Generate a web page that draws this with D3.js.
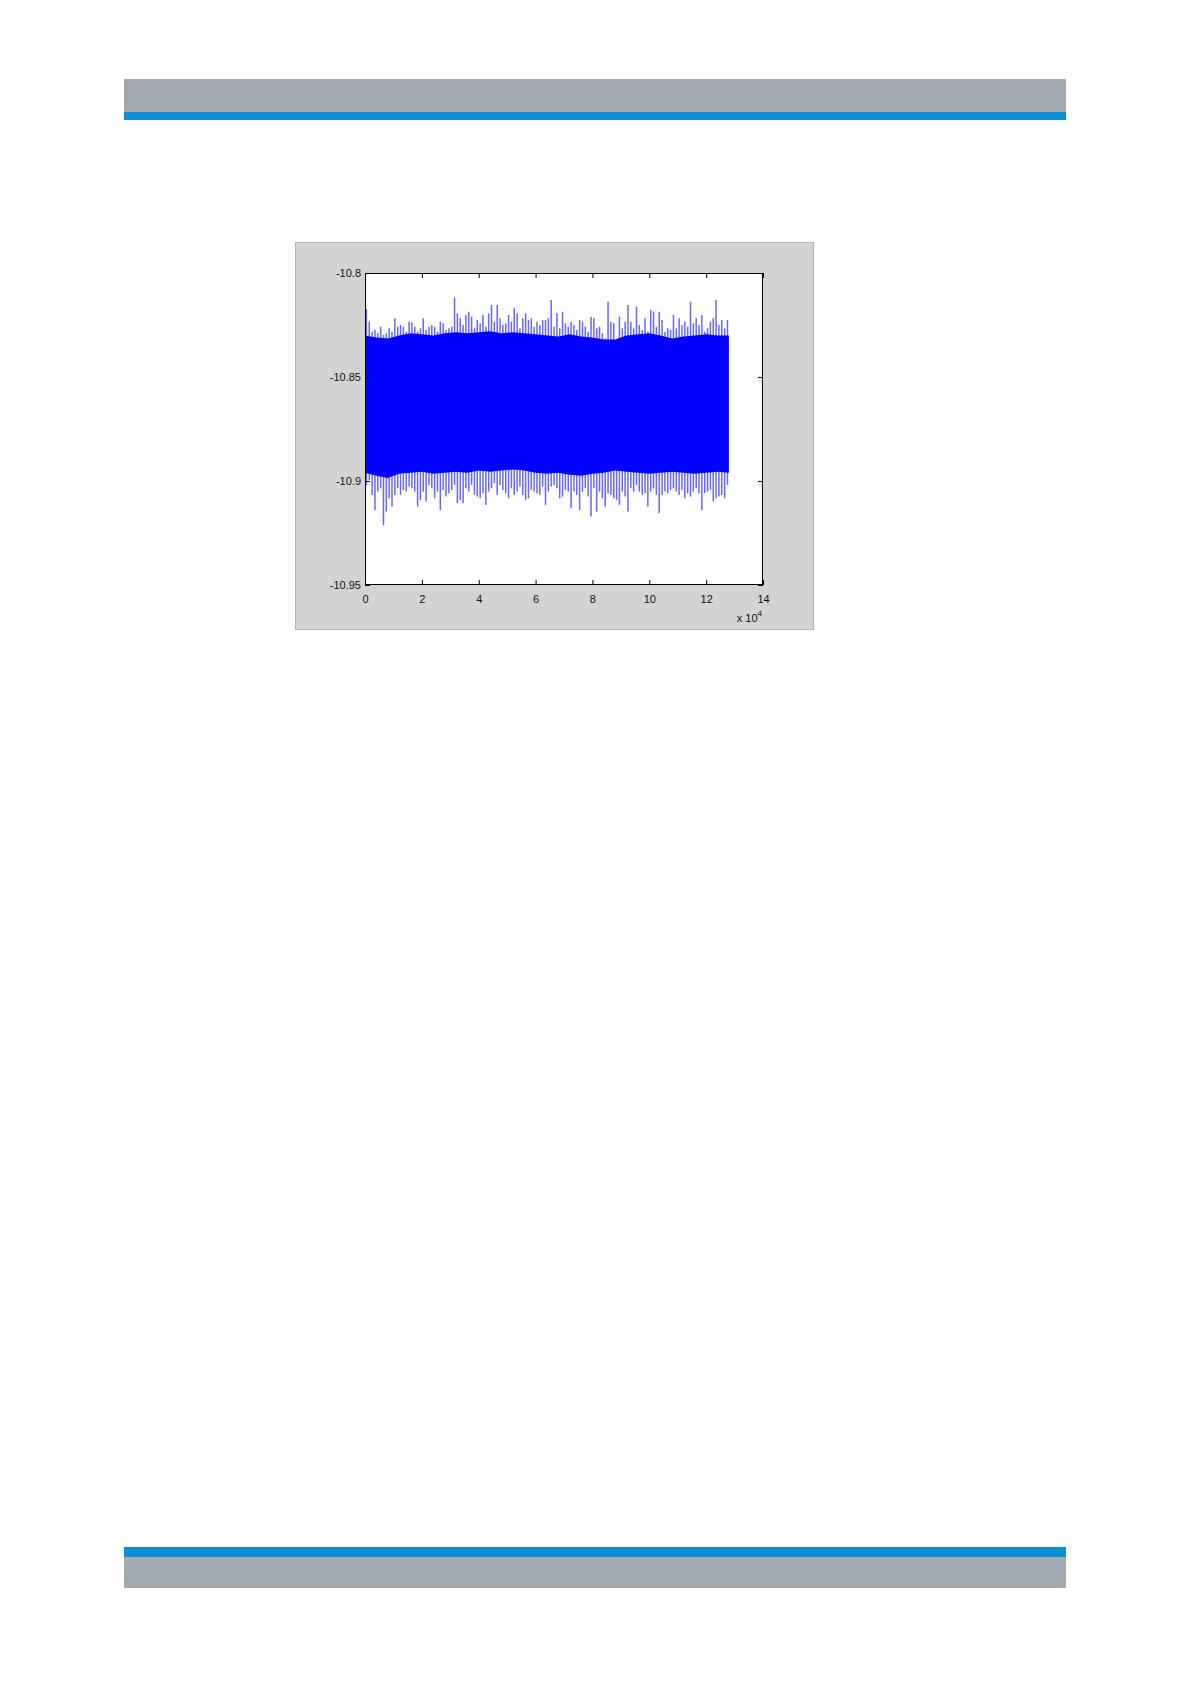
<!DOCTYPE html>
<html>
<head>
<meta charset="utf-8">
<script src="https://cdn.jsdelivr.net/npm/d3@7"></script>
<style>
  html, body { margin: 0; padding: 0; background: #fff; }
  svg { display: block; }
  text { font-family: "Liberation Sans", Arial, sans-serif; }
</style>
</head>
<body>
<svg width="1191" height="1684"></svg>
<script>
var binSize = 1000;
var traceEnd = 128000;

var binMax = [
  -10.8173,-10.8234,-10.8282,-10.8274,-10.8290,-10.8258,-10.8298,-10.8290,-10.8266,-10.8282,
  -10.8218,-10.8258,-10.8250,-10.8258,-10.8282,-10.8234,-10.8237,-10.8258,-10.8282,-10.8266,
  -10.8218,-10.8274,-10.8258,-10.8250,-10.8258,-10.8282,-10.8234,-10.8242,-10.8274,-10.8266,
  -10.8258,-10.8119,-10.8194,-10.8218,-10.8250,-10.8202,-10.8186,-10.8210,-10.8266,-10.8226,
  -10.8242,-10.8202,-10.8258,-10.8194,-10.8154,-10.8234,-10.8154,-10.8218,-10.8250,-10.8242,
  -10.8202,-10.8234,-10.8167,-10.8194,-10.8266,-10.8218,-10.8194,-10.8226,-10.8218,-10.8258,
  -10.8234,-10.8250,-10.8226,-10.8226,-10.8218,-10.8130,-10.8258,-10.8194,-10.8266,-10.8186,
  -10.8242,-10.8258,-10.8234,-10.8250,-10.8274,-10.8226,-10.8234,-10.8258,-10.8282,-10.8210,
  -10.8218,-10.8266,-10.8258,-10.8290,-10.8314,-10.8138,-10.8234,-10.8242,-10.8330,-10.8210,
  -10.8266,-10.8234,-10.8154,-10.8234,-10.8266,-10.8162,-10.8250,-10.8274,-10.8218,-10.8282,
  -10.8178,-10.8186,-10.8258,-10.8186,-10.8226,-10.8282,-10.8266,-10.8274,-10.8202,-10.8266,
  -10.8218,-10.8250,-10.8234,-10.8258,-10.8138,-10.8242,-10.8218,-10.8250,-10.8202,-10.8282,
  -10.8266,-10.8234,-10.8218,-10.8130,-10.8250,-10.8226,-10.8266,-10.8226
];

var binMin = [
  -10.9019,-10.8995,-10.9067,-10.9139,-10.9051,-10.9035,-10.9212,-10.9147,-10.9083,-10.9123,
  -10.9067,-10.9035,-10.9067,-10.9043,-10.9051,-10.9027,-10.9035,-10.9051,-10.9123,-10.9091,
  -10.9051,-10.9099,-10.9019,-10.9035,-10.9083,-10.9051,-10.9139,-10.9043,-10.9075,-10.9059,
  -10.9043,-10.9019,-10.9107,-10.9091,-10.9107,-10.9035,-10.9051,-10.9019,-10.9067,-10.9075,
  -10.9083,-10.9059,-10.9115,-10.9051,-10.9035,-10.9011,-10.9067,-10.9019,-10.9043,-10.9059,
  -10.9083,-10.9035,-10.9067,-10.9051,-10.9027,-10.9067,-10.9091,-10.9083,-10.9043,-10.9051,
  -10.9059,-10.9067,-10.9027,-10.9115,-10.9051,-10.9027,-10.9019,-10.9035,-10.9083,-10.9075,
  -10.9043,-10.9051,-10.9131,-10.9051,-10.9067,-10.9139,-10.9051,-10.9035,-10.9075,-10.9171,
  -10.9035,-10.9147,-10.9051,-10.9083,-10.9123,-10.9059,-10.9067,-10.9083,-10.9091,-10.9115,
  -10.9051,-10.9075,-10.9147,-10.9035,-10.9051,-10.9019,-10.9051,-10.9067,-10.9059,-10.9123,
  -10.9051,-10.9035,-10.9067,-10.9155,-10.9067,-10.9051,-10.9059,-10.9043,-10.9035,-10.9051,
  -10.9067,-10.9043,-10.9083,-10.9059,-10.9075,-10.9051,-10.9035,-10.9059,-10.9139,-10.9059,
  -10.9051,-10.9043,-10.9099,-10.9083,-10.9075,-10.9067,-10.9083,-10.9019
];

// dense body of the trace, every 4000 samples
var coreStep = 4000;
var coreTop = [
  -10.8300,-10.8310,-10.8315,-10.8300,-10.8290,-10.8295,-10.8300,-10.8290,-10.8285,-10.8290,
  -10.8285,-10.8280,-10.8290,-10.8285,-10.8290,-10.8295,-10.8300,-10.8305,-10.8295,-10.8305,
  -10.8310,-10.8320,-10.8320,-10.8300,-10.8295,-10.8290,-10.8300,-10.8315,-10.8305,-10.8300,
  -10.8295,-10.8300,-10.8300
];
var coreBottom = [
  -10.8960,-10.8975,-10.8985,-10.8965,-10.8960,-10.8955,-10.8965,-10.8960,-10.8955,-10.8960,
  -10.8950,-10.8955,-10.8950,-10.8945,-10.8950,-10.8960,-10.8965,-10.8960,-10.8970,-10.8975,
  -10.8965,-10.8960,-10.8950,-10.8955,-10.8960,-10.8965,-10.8960,-10.8955,-10.8960,-10.8965,
  -10.8960,-10.8955,-10.8960
];

var xTicks = [0, 20000, 40000, 60000, 80000, 100000, 120000, 140000];
var xTickLabels = ["0", "2", "4", "6", "8", "10", "12", "14"];
var yTicks = [-10.95, -10.9, -10.85, -10.8];
var yTickLabels = ["-10.95", "-10.9", "-10.85", "-10.8"];

var svg = d3.select("svg");

// page header and footer bands
svg.append("rect").attr("x", 124).attr("y", 79).attr("width", 942).attr("height", 33).attr("fill", "#a2aaaf");
svg.append("rect").attr("x", 124).attr("y", 112).attr("width", 942).attr("height", 8).attr("fill", "#0b8ed3");
svg.append("rect").attr("x", 124).attr("y", 1547).attr("width", 942).attr("height", 10).attr("fill", "#0b8ed3");
svg.append("rect").attr("x", 124).attr("y", 1557).attr("width", 942).attr("height", 31).attr("fill", "#a2aaaf");

// figure window
svg.append("rect")
    .attr("x", 295.5).attr("y", 242.5)
    .attr("width", 518).attr("height", 387)
    .attr("fill", "#d3d3d3")
    .attr("stroke", "#b4b4b4");

var axLeft = 365, axRight = 763, axTop = 273, axBottom = 585;

var x = d3.scaleLinear().domain([0, 140000]).range([axLeft, axRight]);
var y = d3.scaleLinear().domain([-10.95, -10.8]).range([axBottom, axTop]);

svg.append("rect")
    .attr("x", axLeft).attr("y", axTop)
    .attr("width", axRight - axLeft).attr("height", axBottom - axTop)
    .attr("fill", "#fff");

var plot = svg.append("g");

var coreData = coreTop.map(function(d, i) {
    return { s: Math.min(i * coreStep, traceEnd), hi: d, lo: coreBottom[i] };
});

plot.append("path")
    .datum(coreData)
    .attr("fill", "#0000ff")
    .attr("d", d3.area()
        .x(function(d) { return x(d.s); })
        .y0(function(d) { return y(d.lo); })
        .y1(function(d) { return y(d.hi); }));

var bins = binMax.map(function(d, i) {
    return { s: (i + 0.5) * binSize, hi: d, lo: binMin[i] };
});

plot.selectAll(".spike")
    .data(bins)
    .enter().append("line")
    .attr("class", "spike")
    .attr("x1", function(d) { return x(d.s); })
    .attr("x2", function(d) { return x(d.s); })
    .attr("y1", function(d) { return y(d.lo); })
    .attr("y2", function(d) { return y(d.hi); })
    .attr("stroke", "#0000ff")
    .attr("stroke-opacity", 0.6)
    .attr("stroke-width", 1.5);

// axes with inward ticks on all four sides
function styleAxis(a) {
    a.select(".domain").remove();
    a.selectAll(".tick line").attr("stroke", "#000");
    a.selectAll(".tick text")
        .attr("fill", "#111")
        .style("font-size", "11px")
        .style("font-family", "'Liberation Sans', Arial, sans-serif");
}

var xAxis = svg.append("g")
    .attr("transform", "translate(0," + axBottom + ")")
    .call(d3.axisBottom(x).tickValues(xTicks).tickSizeInner(-5).tickSizeOuter(0).tickPadding(10)
        .tickFormat(function(d, i) { return xTickLabels[i]; }));
styleAxis(xAxis);

svg.append("g")
    .attr("transform", "translate(0," + axTop + ")")
    .call(d3.axisTop(x).tickValues(xTicks).tickSizeInner(-5).tickSizeOuter(0).tickFormat(""))
    .call(styleAxis);

var yAxis = svg.append("g")
    .attr("transform", "translate(" + axLeft + ",0)")
    .call(d3.axisLeft(y).tickValues(yTicks).tickSizeInner(-5).tickSizeOuter(0).tickPadding(4)
        .tickFormat(function(d, i) { return yTickLabels[i]; }));
styleAxis(yAxis);
yAxis.selectAll(".tick text").attr("x", -4).attr("dy", "0.35em");

svg.append("g")
    .attr("transform", "translate(" + axRight + ",0)")
    .call(d3.axisRight(y).tickValues(yTicks).tickSizeInner(-5).tickSizeOuter(0).tickFormat(""))
    .call(styleAxis);

svg.append("rect")
    .attr("x", axLeft + 0.5).attr("y", axTop + 0.5)
    .attr("width", axRight - axLeft - 1).attr("height", axBottom - axTop - 1)
    .attr("fill", "none")
    .attr("stroke", "#000");

// exponent label
var expo = svg.append("text")
    .attr("x", axRight - 1).attr("y", 622)
    .attr("text-anchor", "end")
    .attr("fill", "#111")
    .style("font-size", "11px");
expo.append("tspan").text("x 10");
expo.append("tspan").attr("dy", -6).style("font-size", "8px").text("4");
</script>
</body>
</html>
